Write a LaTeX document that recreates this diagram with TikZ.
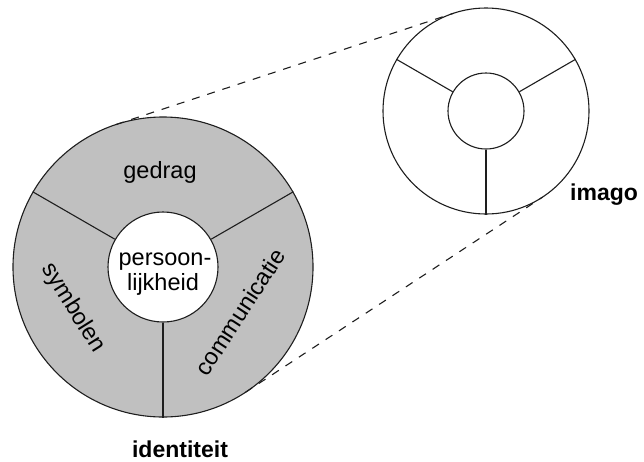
\documentclass[tikz,border=0pt]{standalone}
\usepackage{fontspec}
\setmainfont{Liberation Sans}
\definecolor{ringgray}{RGB}{192,192,192}
\definecolor{linecol}{RGB}{30,30,30}
\begin{document}
\begin{tikzpicture}[x=1pt,y=-1pt,
  ring/.style={circle,draw=linecol,line width=1.1pt,inner sep=0pt},
  spoke/.style={draw=linecol,line width=1.1pt},
  dashline/.style={draw=linecol,line width=1.1pt,dash pattern=on 8pt off 8pt},
  lbl/.style={font=\fontsize{23.5}{25}\selectfont,inner sep=0pt},
  blbl/.style={font=\fontsize{23}{25}\selectfont\bfseries,inner sep=0pt}]
\useasboundingbox (0,0) rectangle (644,461);
% big wheel
\node[ring,fill=ringgray,minimum size=300pt] (bo) at (163,267) {};
\node[ring,fill=white,minimum size=110pt] (bi) at (163,267) {};
\draw[spoke] (bi.150) -- (bo.150);
\draw[spoke] (bi.30) -- (bo.30);
\draw[spoke] (bi.270) -- (bo.270);
% small wheel
\node[ring,fill=white,minimum size=206pt] (so) at (486,111) {};
\node[ring,fill=white,minimum size=76pt] (si) at (486,111) {};
\draw[spoke] (si.150) -- (so.150);
\draw[spoke] (si.30) -- (so.30);
\draw[spoke] (si.270) -- (so.270);
% tangent points
\coordinate (t1) at (116.0,124.5);
\coordinate (t2) at (453.7,13.2);
\coordinate (t3) at (245.4,392.3);
\coordinate (t4) at (542.6,197.1);
\draw[dashline] (t1) -- (t2);
\draw[dashline] (t3) -- (t4);
% labels
\node[lbl,anchor=base] (ged) at (160,178) {gedrag};
\node[lbl,anchor=base] (pers) at (165,265) {persoon-};
\node[lbl,anchor=base] (lijk) at (163,290) {lijkheid};
\node[lbl,rotate=-58] (sym) at (73,308) {symbolen};
\node[lbl,rotate=57] (com) at (240,312) {communicatie};
\node[blbl,anchor=base] (iden) at (180,457) {identiteit};
\node[blbl,anchor=base west] (ima) at (570,200) {imago};
\end{tikzpicture}
\end{document}
